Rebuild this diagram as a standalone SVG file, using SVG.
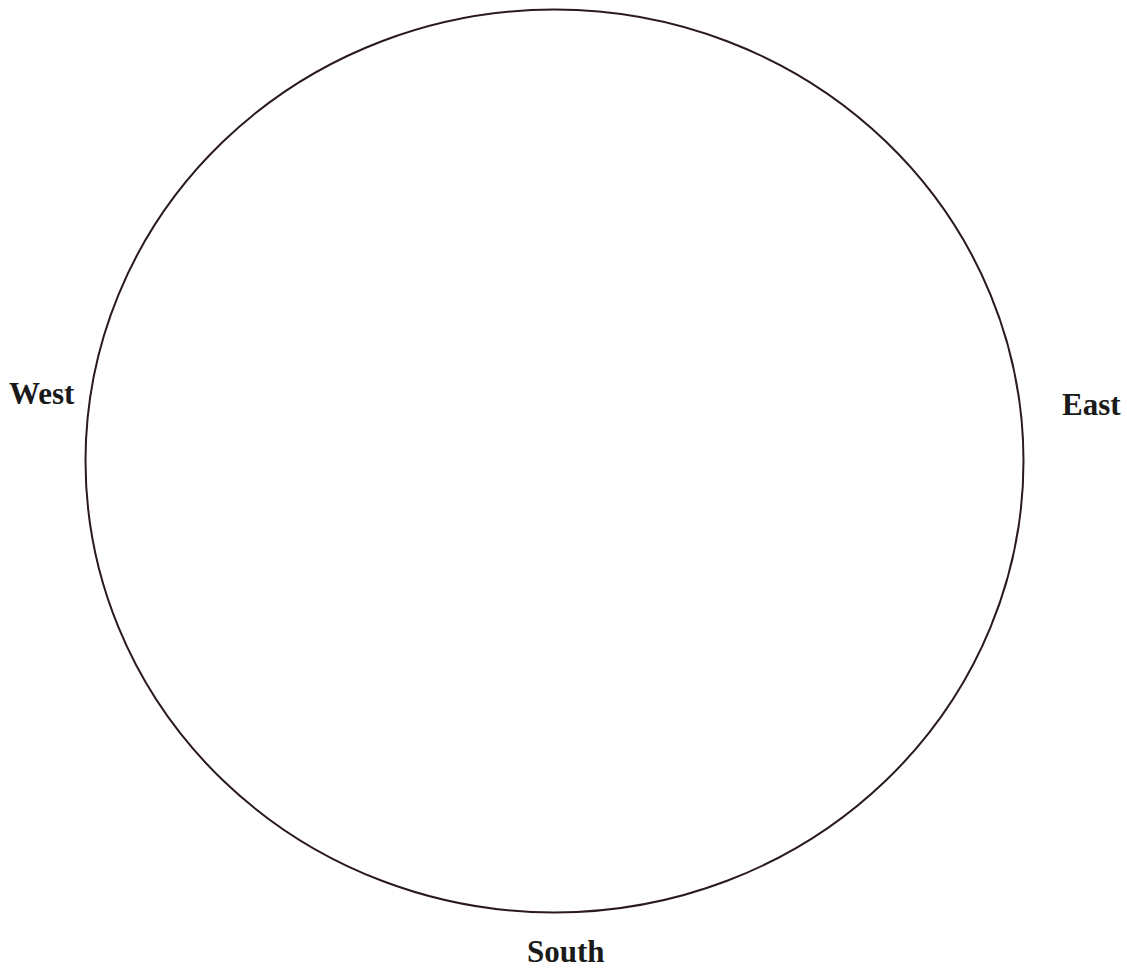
<svg xmlns="http://www.w3.org/2000/svg" width="1127" height="968" viewBox="0 0 1127 968">
<style>
.lbl{font-family:"Liberation Serif","Times New Roman",serif;font-weight:bold;font-size:31px;fill:#1a1a1a}
</style>
<rect width="1127" height="968" fill="#ffffff"/>
<g id="horizon">
<ellipse cx="554.5" cy="461" rx="469" ry="451.5" fill="none" stroke="#2a1a1e" stroke-width="2"/>
</g>
<g id="connectors"></g>
<g id="west"><text class="lbl" x="9" y="404">West</text></g>
<g id="east"><text class="lbl" x="1062" y="415">East</text></g>
<g id="south"><text class="lbl" x="527" y="962">South</text></g>
</svg>
